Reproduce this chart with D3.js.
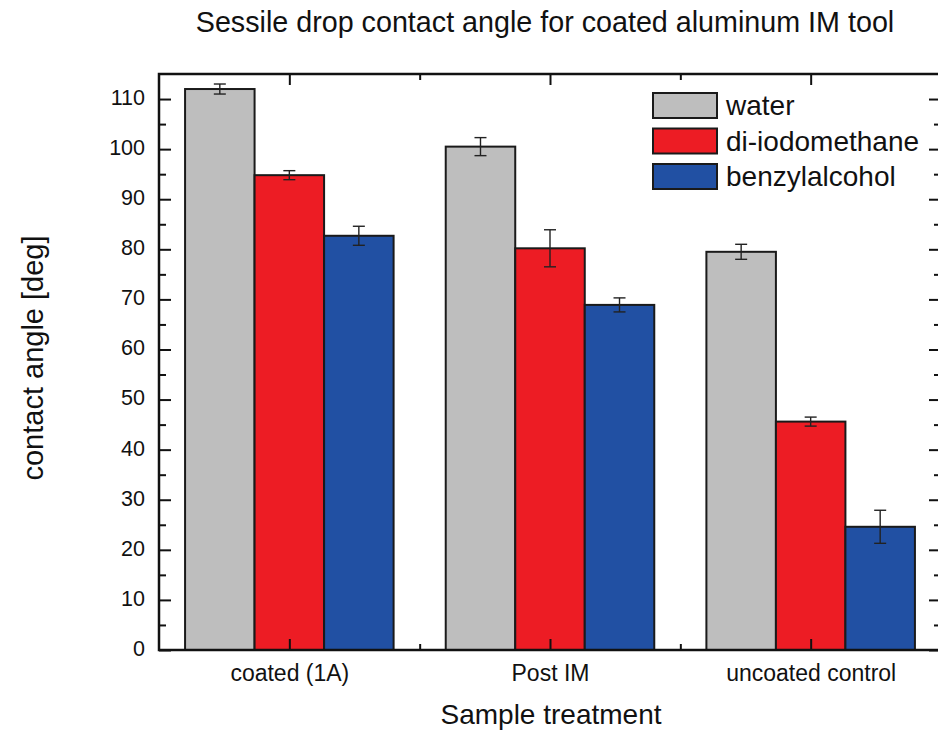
<!DOCTYPE html>
<html>
<head>
<meta charset="utf-8">
<script src="https://cdn.jsdelivr.net/npm/d3@7"></script>
<style>
  html, body { margin: 0; padding: 0; background: #fff; }
  svg { display: block; font-family: "Liberation Sans", Arial, sans-serif; }
</style>
</head>
<body>
<svg id="chart" width="938" height="733"></svg>
<script>
// Sample treatments (x categories)
const categories = ["coated (1A)", "Post IM", "uncoated control"];
// Probe liquids (series)
const seriesNames = ["water", "di-iodomethane", "benzylalcohol"];
const seriesColors = ["#bebebe", "#ed1c24", "#2150a3"];
// Mean contact angle [deg] per treatment, one array per liquid
const water = [112.0, 100.5, 79.5];
const diiodomethane = [94.8, 80.2, 45.6];
const benzylalcohol = [82.7, 68.9, 24.6];
// Standard deviation [deg]
const waterErr = [1.0, 1.8, 1.5];
const diiodomethaneErr = [0.9, 3.7, 0.9];
const benzylalcoholErr = [1.9, 1.4, 3.3];
// Y axis ticks
const yMajorTicks = [0, 10, 20, 30, 40, 50, 60, 70, 80, 90, 100, 110];
const yMinorTicks = [5, 15, 25, 35, 45, 55, 65, 75, 85, 95, 105];

const values = [water, diiodomethane, benzylalcohol];
const errors = [waterErr, diiodomethaneErr, benzylalcoholErr];

const svg = d3.select("#chart");
const plot = { left: 159, right: 941, top: 74, bottom: 650 };

const x0 = d3.scaleBand()
  .domain(categories)
  .range([plot.left, plot.right])
  .paddingInner(0.2)
  .paddingOuter(0.1);
const x1 = d3.scaleBand()
  .domain(seriesNames)
  .range([0, x0.bandwidth()]);
const y = d3.scaleLinear().domain([0, 115]).range([plot.bottom, plot.top]);

// Bars
const rows = [];
categories.forEach((c, ci) => {
  seriesNames.forEach((s, si) => {
    rows.push({ cat: c, series: s, si, v: values[si][ci], e: errors[si][ci] });
  });
});

const g = svg.append("g");
g.selectAll("rect.bar")
  .data(rows)
  .join("rect")
  .attr("class", "bar")
  .attr("x", d => x0(d.cat) + x1(d.series))
  .attr("y", d => y(d.v))
  .attr("width", x1.bandwidth())
  .attr("height", d => y(0) - y(d.v))
  .attr("fill", d => seriesColors[d.si])
  .attr("stroke", "#1a1a1a")
  .attr("stroke-width", 2);

// Error bars
const eb = g.selectAll("g.err").data(rows).join("g").attr("class", "err")
  .attr("stroke", "#222").attr("stroke-width", 1.4);
const cx = d => x0(d.cat) + x1(d.series) + x1.bandwidth() / 2;
const capHalf = 6;
eb.append("line")
  .attr("x1", cx).attr("x2", cx)
  .attr("y1", d => y(d.v + d.e)).attr("y2", d => y(d.v - d.e));
eb.append("line")
  .attr("x1", d => cx(d) - capHalf).attr("x2", d => cx(d) + capHalf)
  .attr("y1", d => y(d.v + d.e)).attr("y2", d => y(d.v + d.e));
eb.append("line")
  .attr("x1", d => cx(d) - capHalf).attr("x2", d => cx(d) + capHalf)
  .attr("y1", d => y(d.v - d.e)).attr("y2", d => y(d.v - d.e));

// Axes: ticks point inward on all four sides
const axisStyle = sel => {
  sel.select(".domain").remove();
  sel.selectAll(".tick line").attr("stroke", "#111").attr("stroke-width", 2);
};

const xCenters = categories.map(c => x0(c) + x0.bandwidth() / 2);
const xMid = xCenters.slice(1).map((v, i) => (v + xCenters[i]) / 2);
const xPos = d3.scaleIdentity().domain([0, 938]);

// bottom
const bottomMajor = svg.append("g").attr("transform", `translate(0,${plot.bottom})`)
  .call(d3.axisBottom(xPos).tickValues(xCenters).tickSizeInner(-11).tickSizeOuter(0).tickFormat((d, i) => categories[i]));
axisStyle(bottomMajor);
bottomMajor.selectAll(".tick text")
  .attr("y", 31).attr("dy", 0)
  .attr("font-size", 23).attr("fill", "#111").attr("font-family", "Liberation Sans, Arial, sans-serif");
const bottomMinor = svg.append("g").attr("transform", `translate(0,${plot.bottom})`)
  .call(d3.axisBottom(xPos).tickValues(xMid).tickSizeInner(-6).tickSizeOuter(0).tickFormat(""));
axisStyle(bottomMinor);

// top
const topMajor = svg.append("g").attr("transform", `translate(0,${plot.top})`)
  .call(d3.axisTop(xPos).tickValues(xCenters).tickSizeInner(-11).tickSizeOuter(0).tickFormat(""));
axisStyle(topMajor);
const topMinor = svg.append("g").attr("transform", `translate(0,${plot.top})`)
  .call(d3.axisTop(xPos).tickValues(xMid).tickSizeInner(-6).tickSizeOuter(0).tickFormat(""));
axisStyle(topMinor);

// left
const leftMajor = svg.append("g").attr("transform", `translate(${plot.left},0)`)
  .call(d3.axisLeft(y).tickValues(yMajorTicks).tickSizeInner(-12).tickSizeOuter(0).tickFormat(d3.format("d")));
axisStyle(leftMajor);
leftMajor.selectAll(".tick text")
  .attr("x", -14).attr("dy", "0.25em")
  .attr("font-size", 21.5).attr("fill", "#111").attr("font-family", "Liberation Sans, Arial, sans-serif");
const leftMinor = svg.append("g").attr("transform", `translate(${plot.left},0)`)
  .call(d3.axisLeft(y).tickValues(yMinorTicks).tickSizeInner(-7).tickSizeOuter(0).tickFormat(""));
axisStyle(leftMinor);

// right
const rightMajor = svg.append("g").attr("transform", `translate(${plot.right},0)`)
  .call(d3.axisRight(y).tickValues(yMajorTicks).tickSizeInner(-12).tickSizeOuter(0).tickFormat(""));
axisStyle(rightMajor);
const rightMinor = svg.append("g").attr("transform", `translate(${plot.right},0)`)
  .call(d3.axisRight(y).tickValues(yMinorTicks).tickSizeInner(-7).tickSizeOuter(0).tickFormat(""));
axisStyle(rightMinor);

// Frame
svg.append("rect")
  .attr("x", plot.left).attr("y", plot.top)
  .attr("width", plot.right - plot.left).attr("height", plot.bottom - plot.top)
  .attr("fill", "none").attr("stroke", "#111").attr("stroke-width", 2.5);

// Legend
const legend = svg.append("g").attr("transform", "translate(653,93)");
seriesNames.forEach((s, i) => {
  const row = legend.append("g").attr("transform", `translate(0,${i * 35.5})`);
  row.append("rect").attr("width", 64).attr("height", 25)
    .attr("fill", seriesColors[i]).attr("stroke", "#1a1a1a").attr("stroke-width", 2);
  row.append("text").attr("x", 73).attr("y", 22)
    .attr("font-size", 28).attr("fill", "#111").text(s);
});

// Titles
svg.append("text").attr("x", 545).attr("y", 32).attr("text-anchor", "middle")
  .attr("font-size", 28.7).attr("fill", "#111")
  .text("Sessile drop contact angle for coated aluminum IM tool");
svg.append("text").attr("x", 551).attr("y", 724).attr("text-anchor", "middle")
  .attr("font-size", 28).attr("fill", "#111")
  .text("Sample treatment");
svg.append("text")
  .attr("transform", `translate(43,${(plot.top + plot.bottom) / 2 - 4}) rotate(-90)`)
  .attr("text-anchor", "middle")
  .attr("font-size", 29).attr("fill", "#111")
  .text("contact angle [deg]");
</script>
</body>
</html>
